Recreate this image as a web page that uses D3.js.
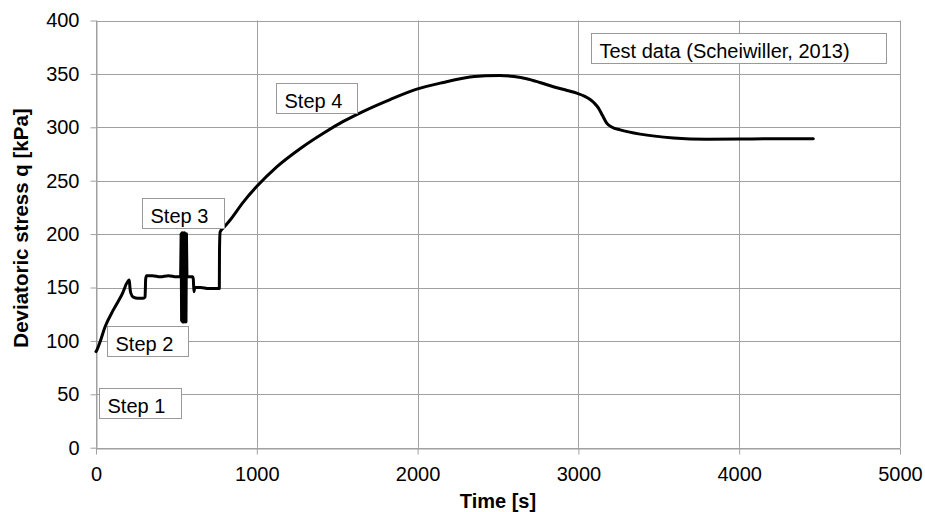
<!DOCTYPE html>
<html>
<head>
<meta charset="utf-8">
<script src="https://d3js.org/d3.v7.min.js"></script>
<style>
  body { margin: 0; background: #fff; }
  text { font-family: "Liberation Sans", Arial, sans-serif; }
</style>
</head>
<body>
<script>
// time [s] and deviatoric stress q [kPa]
var timeSec = [0, 4, 25, 56, 108, 160, 207, 211, 216, 232, 260, 294, 305, 309, 314, 350, 400, 450, 500, 528,
               565, 600, 605, 609, 614, 650, 700, 767, 768, 772, 800, 833, 916, 999, 1124, 1269, 1414, 1538, 1663,
               1829, 1995, 2160, 2326, 2420, 2512, 2600, 2678, 2760, 2844, 2930, 2990, 3040, 3073, 3100, 3125, 3150,
               3176, 3210, 3260, 3384, 3591, 3798, 4005, 4200, 4461];
var stressQ = [90, 91, 99, 113, 129, 143, 157, 150, 145, 141, 140, 140, 141, 158, 161, 161, 160, 161, 160, 160,
               160, 160, 158, 146, 150, 150, 149, 149, 185, 202, 207, 213, 230, 244.5, 263, 280, 294.5, 305.5, 315,
               326, 335.7, 342, 347, 348.3, 348.5, 347.5, 345.5, 342, 338, 334.5, 332, 329, 326, 322.5, 318, 311,
               304, 300, 297.6, 293.6, 290, 288.8, 289, 289.3, 289.2];

// cyclic loading in step 3 (drawn as one dense band)
var cycTime = [528, 531, 534, 537, 540, 543, 546, 549, 552, 555, 558, 561, 564];
var cycQ = [160, 200, 119, 201, 118, 200, 118, 201, 119, 200, 118, 200, 160];

var xTicks = [0, 1000, 2000, 3000, 4000, 5000];
var yTicks = [0, 50, 100, 150, 200, 250, 300, 350, 400];

var labelText = ["Step 1", "Step 2", "Step 3", "Step 4", "Test data (Scheiwiller, 2013)"];
var labelTime = [19, 66, 284, 1117, 3078];
var labelQ = [55.6, 114.3, 233.6, 341.4, 388.2];
var labelWidth = [82, 81, 82, 81, 295];

var W = 925, H = 512;
var margin = {left: 96, right: 25, top: 20.5, bottom: 64.3};

var svg = d3.select("body")
            .append("svg")
            .attr("width", W)
            .attr("height", H);

var x = d3.scaleLinear()
          .domain([0, 5000])
          .range([margin.left, W - margin.right]);

var y = d3.scaleLinear()
          .domain([0, 400])
          .range([H - margin.bottom, margin.top]);

var gridColor = "#a0a0a0";

// grid
svg.append("g")
   .selectAll("line")
   .data(yTicks)
   .enter()
   .append("line")
   .attr("x1", x(0))
   .attr("x2", x(5000))
   .attr("y1", function(d) {return Math.round(y(d)) + 0.5;})
   .attr("y2", function(d) {return Math.round(y(d)) + 0.5;})
   .attr("stroke", gridColor);

svg.append("g")
   .selectAll("line")
   .data(xTicks)
   .enter()
   .append("line")
   .attr("x1", function(d) {return Math.round(x(d)) + 0.5;})
   .attr("x2", function(d) {return Math.round(x(d)) + 0.5;})
   .attr("y1", y(400))
   .attr("y2", y(0))
   .attr("stroke", gridColor);

// axes
var xAxis = svg.append("g")
               .attr("transform", "translate(0," + (Math.round(y(0)) + 0.5) + ")")
               .call(d3.axisBottom(x).tickValues(xTicks).tickFormat(d3.format("d")).tickSize(6).tickPadding(12).tickSizeOuter(0));

var yAxis = svg.append("g")
               .attr("transform", "translate(" + (Math.round(x(0)) + 0.5) + ",0)")
               .call(d3.axisLeft(y).tickValues(yTicks).tickSize(6).tickPadding(11).tickSizeOuter(0));

[xAxis, yAxis].forEach(function(g) {
  g.select(".domain").attr("stroke", gridColor);
  g.selectAll(".tick line").attr("stroke", gridColor);
  g.selectAll(".tick text")
   .attr("fill", "#000")
   .attr("font-size", "20px")
   .attr("font-family", "Liberation Sans, Arial, sans-serif");
});

// axis titles
svg.append("text")
   .attr("x", (x(0) + x(5000)) / 2)
   .attr("y", 508)
   .attr("text-anchor", "middle")
   .attr("font-size", "20px")
   .attr("font-weight", "bold")
   .text("Time [s]");

svg.append("text")
   .attr("transform", "translate(28," + 228 + ") rotate(-90)")
   .attr("text-anchor", "middle")
   .attr("font-size", "20.5px")
   .attr("font-weight", "bold")
   .text("Deviatoric stress q [kPa]");

// curve
var line = d3.line()
             .curve(d3.curveMonotoneX)
             .x(function(d) {return x(d[0]);})
             .y(function(d) {return y(d[1]);});

var main = d3.zip(timeSec, stressQ);
var cyc = d3.zip(cycTime, cycQ);

svg.append("path")
   .datum(main)
   .attr("d", line)
   .attr("fill", "none")
   .attr("stroke", "#000")
   .attr("stroke-width", 3)
   .attr("stroke-linejoin", "round")
   .attr("stroke-linecap", "round");

svg.append("path")
   .datum(cyc)
   .attr("d", line.curve(d3.curveLinear))
   .attr("fill", "none")
   .attr("stroke", "#000")
   .attr("stroke-width", 3.5)
   .attr("stroke-linejoin", "round")
   .attr("stroke-linecap", "round");

// annotation boxes
var labels = d3.range(labelText.length).map(function(i) {
  return {text: labelText[i], t: labelTime[i], q: labelQ[i], w: labelWidth[i]};
});

var box = svg.selectAll(".lbl")
             .data(labels)
             .enter()
             .append("g")
             .attr("class", "lbl")
             .attr("transform", function(d) {return "translate(" + (Math.round(x(d.t)) + 0.5) + "," + (Math.round(y(d.q)) + 0.5) + ")";});

box.append("rect")
   .attr("width", function(d) {return d.w;})
   .attr("height", 30)
   .attr("fill", "#fff")
   .attr("stroke", "#999");

box.append("text")
   .attr("x", 8)
   .attr("y", 24.5)
   .attr("font-size", "20px")
   .attr("fill", "#000")
   .text(function(d) {return d.text;});
</script>
</body>
</html>
